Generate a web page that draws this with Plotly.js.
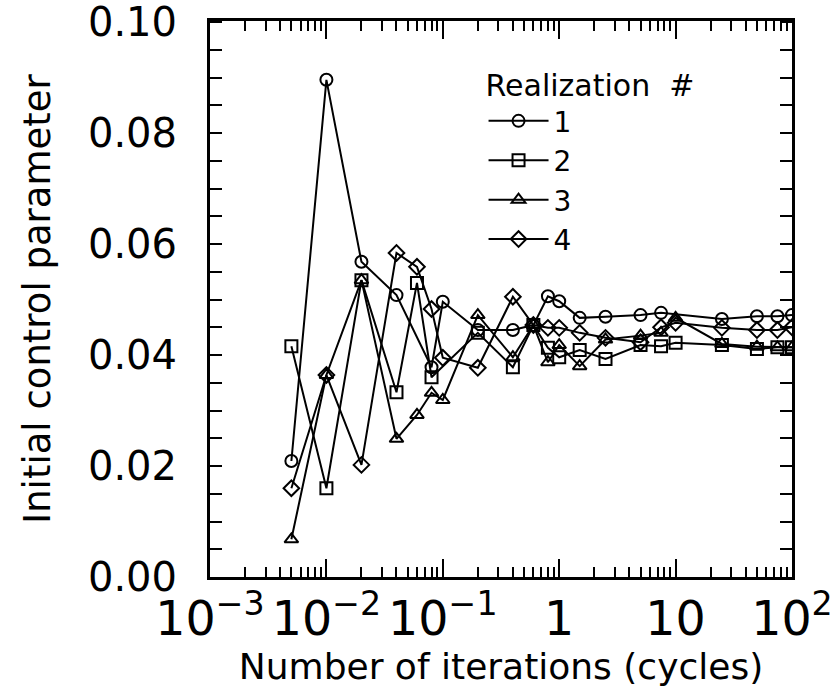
<!DOCTYPE html>
<html>
<head>
<meta charset="utf-8">
<script src="https://cdn.plot.ly/plotly-3.0.1.min.js"></script>
<style>
  html, body { margin: 0; padding: 0; background: #fff; }
  #chart { width: 836px; height: 689px; }
</style>
</head>
<body>
<div id="chart"></div>
<script>
// ---- data ----
const iter1 = [0.005, 0.01, 0.02, 0.04, 0.08, 0.1, 0.2, 0.4, 0.6, 0.8, 1, 1.5, 2.5, 5, 7.5, 25, 50, 75, 100];
const real1 = [0.0209, 0.0896, 0.0568, 0.0508, 0.0378, 0.0496, 0.0445, 0.0445, 0.0454, 0.0506, 0.0497, 0.0467, 0.0469, 0.0472, 0.0476, 0.0465, 0.0470, 0.0470, 0.0472];

const iter2 = [0.005, 0.01, 0.02, 0.04, 0.06, 0.08, 0.2, 0.4, 0.6, 0.8, 1, 1.5, 2.5, 5, 7.5, 10, 25, 50, 75, 100];
const real2 = [0.0416, 0.0160, 0.0535, 0.0333, 0.0530, 0.0360, 0.0440, 0.0378, 0.0454, 0.0413, 0.0396, 0.0409, 0.0393, 0.0418, 0.0416, 0.0422, 0.0418, 0.0411, 0.0414, 0.0414];

const iter3 = [0.005, 0.01, 0.02, 0.04, 0.06, 0.08, 0.1, 0.2, 0.4, 0.6, 0.8, 1, 1.5, 2.5, 5, 7.5, 10, 25, 50, 75, 100];
const real3 = [0.0068, 0.0364, 0.0535, 0.0249, 0.0292, 0.0332, 0.0319, 0.0472, 0.0396, 0.0454, 0.0387, 0.0418, 0.0380, 0.0428, 0.0435, 0.0440, 0.0467, 0.0420, 0.0415, 0.0414, 0.0414];

const iter4 = [0.005, 0.01, 0.02, 0.04, 0.06, 0.08, 0.1, 0.2, 0.4, 0.6, 0.8, 1, 1.5, 2.5, 5, 7.5, 10, 25, 50, 75, 100];
const real4 = [0.0160, 0.0364, 0.0202, 0.0584, 0.0559, 0.0483, 0.0395, 0.0377, 0.0505, 0.0454, 0.0449, 0.0449, 0.0440, 0.0431, 0.0423, 0.0450, 0.0458, 0.0449, 0.0445, 0.0445, 0.0450];

const seriesNames = ["1", "2", "3", "4"];
const yTickVals = [0, 0.02, 0.04, 0.06, 0.08, 0.10];
const yTickText = ["0.00", "0.02", "0.04", "0.06", "0.08", "0.10"];

const FONT = "DejaVu Sans, Verdana, sans-serif";
const symbols = ["circle-open", "square-open", "triangle-up-open", "diamond-open"];
const xs = [iter1, iter2, iter3, iter4];
const ys = [real1, real2, real3, real4];

const traces = xs.map((x, i) => ({
  x: x, y: ys[i], name: seriesNames[i],
  type: "scatter", mode: "lines+markers",
  line: { color: "#000", width: 2 },
  marker: { symbol: symbols[i], size: 12, color: "#000", line: { color: "#000", width: 2 } }
}));

const layout = {
  width: 836, height: 689,
  paper_bgcolor: "#fff", plot_bgcolor: "#fff",
  margin: { l: 210, r: 44, t: 21, b: 112 },
  font: { family: FONT, color: "#000" },
  showlegend: true,
  legend: {
    x: 0.47, y: 0.935, xanchor: "left", yanchor: "top",
    bgcolor: "rgba(0,0,0,0)", borderwidth: 0,
    font: { family: FONT, size: 28, color: "#000" },
    title: { text: "Realization  #", font: { family: FONT, size: 30, color: "#000" } },
    itemwidth: 60
  },
  xaxis: {
    type: "log", range: [-3.0002, 2.0002],
    tickmode: "linear", tick0: 0, dtick: 1, exponentformat: "power",
    tickangle: 0,
    ticks: "inside", ticklen: 18, tickwidth: 2, tickcolor: "#000",
    minor: { dtick: "D1", ticks: "inside", ticklen: 10, tickwidth: 2, tickcolor: "#000", showgrid: false },
    showline: true, linewidth: 3, linecolor: "#000", mirror: "allticks",
    showgrid: false, zeroline: false,
    tickfont: { family: FONT, size: 38, color: "#000" },
    title: { text: "Number of iterations (cycles)", font: { family: FONT, size: 36, color: "#000" }, standoff: 0 }
  },
  yaxis: {
    range: [0, 0.1002],
    tickmode: "array", tickvals: yTickVals, ticktext: yTickText,
    ticks: "inside", ticklen: 12, tickwidth: 2, tickcolor: "#000",
    minor: { dtick: 0.005, ticks: "inside", ticklen: 12, tickwidth: 2, tickcolor: "#000", showgrid: false },
    showline: true, linewidth: 3, linecolor: "#000", mirror: "ticks",
    showgrid: false, zeroline: false,
    tickfont: { family: FONT, size: 40, color: "#000" },
    ticklabelstandoff: 22, ticklabeloverflow: "allow",
    title: { text: "Initial control parameter", font: { family: FONT, size: 37, color: "#000" }, standoff: 26 }
  }
};

Plotly.newPlot("chart", traces, layout, { staticPlot: true, displayModeBar: false });
</script>
</body>
</html>
